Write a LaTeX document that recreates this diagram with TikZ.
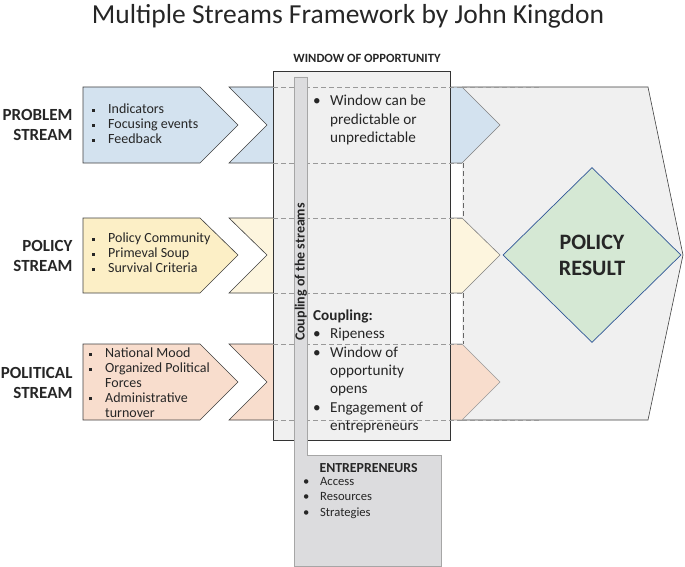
\documentclass[tikz,border=0pt]{standalone}
\usepackage{fontspec}
\setmainfont{Carlito}
\usetikzlibrary{shapes.geometric}
\definecolor{bluef}{HTML}{D3E2EF}
\definecolor{yelf}{HTML}{FCEFC6}
\definecolor{yelc}{HTML}{FDF5DE}
\definecolor{pinkf}{HTML}{F8DDCD}
\definecolor{winf}{HTML}{F0F0F0}
\definecolor{barf}{HTML}{DCDCDE}
\definecolor{diaf}{HTML}{D5E8D4}
\definecolor{diab}{HTML}{2F5597}
\tikzset{
  shp/.style={draw=black!75, line width=0.6pt},
  dsh/.style={draw=black!40, dashed, dash pattern=on 5pt off 3pt, line width=0.6pt},
  lab/.style={font=\bfseries\fontsize{17}{20}\selectfont, align=right, anchor=east, text=black!85},
  lst/.style={font=\fontsize{14}{15}\selectfont, align=left, anchor=north west, text=black!85, inner sep=0pt},
  wtx/.style={font=\fontsize{15.2}{18.4}\selectfont, align=left, anchor=north west, text=black!85, inner sep=0pt},
}
\newcommand{\sqb}{\makebox[16pt][l]{\rule[2pt]{3pt}{3pt}}}
\newcommand{\rb}{\makebox[17pt][l]{\textbullet}}
\begin{document}
\begin{tikzpicture}[x=1pt,y=-1pt]
\useasboundingbox (0,0) rectangle (685,567);
% big result shape
\path[fill=winf,draw=black!75,line width=0.6pt] (462,87) -- (648,87) -- (683,255) -- (648,420) -- (462,420);
\draw[dsh,draw=black!60] (463,163) -- (463,218) (463,293) -- (463,344);
% right stream arrows
\path[shp,draw=black!50,fill=bluef] (450,87) -- (462,87) -- (500,125) -- (462,163) -- (450,163) -- cycle;
\path[shp,draw=black!50,fill=yelc] (450,218) -- (462,218) -- (500,255) -- (462,293) -- (450,293) -- cycle;
\path[shp,draw=black!40,fill=pinkf] (450,344) -- (462,344) -- (500,382) -- (462,420) -- (450,420) -- cycle;
% left boxes
\path[shp,fill=bluef] (83,87) -- (200,87) -- (238,125) -- (200,163) -- (83,163) -- cycle;
\path[shp,fill=yelf] (83,218) -- (200,218) -- (238,255) -- (200,293) -- (83,293) -- cycle;
\path[shp,fill=pinkf] (83,344) -- (200,344) -- (238,382) -- (200,420) -- (83,420) -- cycle;
% chevrons
\path[shp,fill=bluef] (229,87) -- (290,87) -- (290,163) -- (229,163) -- (267,125) -- cycle;
\path[shp,fill=yelc] (229,218) -- (290,218) -- (290,293) -- (229,293) -- (267,255) -- cycle;
\path[shp,fill=pinkf] (229,344) -- (290,344) -- (290,420) -- (229,420) -- (267,382) -- cycle;
% window
\path[fill=winf,draw=black!80,line width=0.8pt] (273,71) rectangle (450,440);
\foreach \yy in {87,163,218,293,344,420} \draw[dsh] (273,\yy) -- (462,\yy);
\draw[dsh] (462,87) -- (540,87) (462,420) -- (540,420);
% coupling bar + entrepreneurs
\path[fill=barf,draw=black!35,line width=0.8pt] (294,77) -- (307,77) -- (307,455) -- (441,455) -- (441,566) -- (294,566) -- cycle;
% diamond
\node[diamond, draw=diab, fill=diaf, line width=0.7pt, minimum width=178pt, minimum height=175pt, inner sep=0pt,
  font=\bfseries\fontsize{22}{26}\selectfont, align=center, text=black!85] (res) at (592,255) {POLICY\\RESULT};
% texts
\node[font=\fontsize{27.5}{32}\selectfont, text=black!85] (title) at (348,16) {Multiple Streams Framework by John Kingdon};
\node[font=\bfseries\fontsize{12.6}{14}\selectfont, text=black!85] (wlab) at (367,58) {WINDOW OF OPPORTUNITY};
\node[lab] (ps) at (76,125) {PROBLEM\\STREAM};
\node[lab] (pos) at (76,256) {POLICY\\STREAM};
\node[lab] (pls) at (76,383) {POLITICAL\\STREAM};
\node[lst] (l1) at (92,104) {\sqb Indicators\\\sqb Focusing events\\\sqb Feedback};
\node[lst] (l2) at (92,233) {\sqb Policy Community\\\sqb Primeval Soup\\\sqb Survival Criteria};
\node[lst,font=\fontsize{14}{14.8}\selectfont] (l3) at (89,348) {\sqb National Mood\\\sqb Organized Political\\\makebox[16pt]{}Forces\\\sqb Administrative\\\makebox[16pt]{}turnover};
\node[wtx] (w1) at (313,95) {\rb Window can be\\\makebox[17pt]{}predictable or\\\makebox[17pt]{}unpredictable};
\node[wtx,font=\bfseries\fontsize{15.2}{18.4}\selectfont] (cp) at (313,310) {Coupling:};
\node[wtx] (w2) at (313,328) {\rb Ripeness\\\rb Window of\\\makebox[17pt]{}opportunity\\\makebox[17pt]{}opens\\\rb Engagement of\\\makebox[17pt]{}entrepreneurs};
\node[rotate=90, font=\bfseries\fontsize{14}{16}\selectfont, text=black!85] (cbar) at (301,272) {Coupling of the streams};
\node[font=\bfseries\fontsize{13.8}{16}\selectfont, text=black!85, anchor=west] (ent) at (316,468) {ENTREPRENEURS};
\node[lst, font=\fontsize{12.6}{15.5}\selectfont] (el) at (303,477) {\makebox[17pt][l]{\textbullet}Access\\\makebox[17pt][l]{\textbullet}Resources\\\makebox[17pt][l]{\textbullet}Strategies};
\end{tikzpicture}
\end{document}
